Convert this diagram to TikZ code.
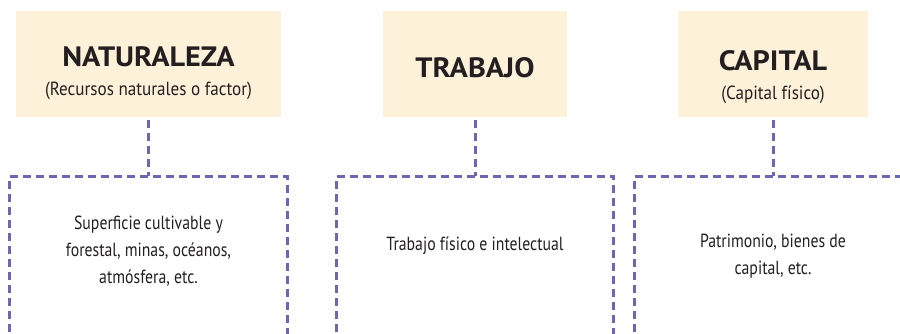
\documentclass[tikz,border=0pt]{standalone}
\usepackage{fontspec}
\setmainfont{PT Sans}
\newfontfamily\narrowfont[FakeStretch=0.9]{PT Sans}
\newfontfamily\bodyfont[FakeStretch=0.83]{PT Sans}
\newfontfamily\titlefont[FakeStretch=1.08]{PT Sans Bold}
\usetikzlibrary{positioning}
\definecolor{cream}{HTML}{FDF1DA}
\definecolor{lilac}{HTML}{6B67B0}
\definecolor{ink}{HTML}{231F20}

\begin{document}
\begin{tikzpicture}[x=1pt, y=-1pt,
    head/.style={fill=cream, minimum height=106pt, inner sep=0pt},
    title/.style={inner sep=0pt, align=center, text=ink, font=\narrowfont\fontsize{19}{29}\selectfont},
    desc/.style={minimum width=277pt, minimum height=150pt, inner sep=0pt, align=center, text=ink,
      font=\bodyfont\fontsize{19}{27}\selectfont},
    link/.style={draw=lilac, line width=3pt, dash pattern=on 8pt off 5pt}]
    \useasboundingbox (0,0) rectangle (900,334);
    \clip (0,0) rectangle (900,334);
    \coordinate (bottom) at (0,345);
    % headers
    \node[head, minimum width=265pt] (nat) at (148.5,64) {};
    \node[head, minimum width=184pt] (trab) at (475,64) {};
    \node[head, minimum width=190pt] (cap) at (773,64) {};
    \node[title] (natt) at ([yshift=-9pt]nat.center)
      {{\titlefont\fontsize{28}{29}\selectfont NATURALEZA}\\(Recursos naturales o factor)};
    \node[title] (trabt) at ([yshift=-4pt]trab.center)
      {\titlefont\fontsize{28}{29}\selectfont TRABAJO};
    \node[title] (capt) at ([yshift=-13pt]cap.center)
      {{\titlefont\fontsize{28}{29}\selectfont CAPITAL}\\(Capital físico)};
    % descriptions
    \node[desc] (natd) [below=59pt of nat] {Superficie cultivable y\\forestal, minas, océanos,\\atmósfera, etc.};
    \node[desc, minimum height=138pt] (trabd) [below=59pt of trab] {Trabajo físico e intelectual};
    \node[desc, minimum height=160pt] (capd) [below=59pt of cap] {Patrimonio, bienes de\\capital, etc.};
    % dashed links and open boxes
    \foreach \h/\d in {nat/natd, trab/trabd, cap/capd} {
      \draw[link] ([yshift=-3pt]\h.south) -- (\d.north);
      \draw[link] (\d.north west |- bottom) -- (\d.north west) -- (\d.north east) -- (\d.north east |- bottom);
    }
\end{tikzpicture}
\end{document}
